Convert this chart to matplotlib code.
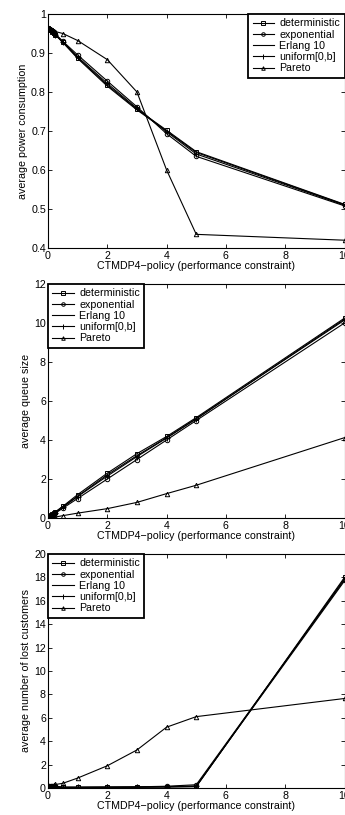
#!/usr/bin/env python3
"""CTMDP4 policy: power / queue / lost customers vs. performance constraint."""

import matplotlib
matplotlib.use("Agg")
import matplotlib.pyplot as plt

plt.rcParams["font.family"] = ["Liberation Sans", "DejaVu Sans"]
plt.rcParams["font.size"] = 7.7

# ── data ─────────────────────────────────────────────────────────────────────
x = [0, 0.05, 0.1, 0.15, 0.2, 0.25, 0.5, 1, 2, 3, 4, 5, 10]

names = ["deterministic", "exponential", "Erlang 10", "uniform[0,b]", "Pareto"]

power_det = [0.965, 0.962, 0.958, 0.955, 0.951, 0.947, 0.928, 0.888, 0.818, 0.756, 0.702, 0.647, 0.512]
power_exp = [0.965, 0.962, 0.959, 0.956, 0.953, 0.949, 0.930, 0.895, 0.828, 0.762, 0.693, 0.635, 0.508]
power_erl = [0.965, 0.962, 0.958, 0.954, 0.950, 0.946, 0.927, 0.886, 0.815, 0.754, 0.700, 0.645, 0.511]
power_uni = [0.965, 0.962, 0.958, 0.955, 0.951, 0.947, 0.928, 0.890, 0.822, 0.758, 0.698, 0.641, 0.510]
power_par = [0.965, 0.963, 0.961, 0.959, 0.957, 0.955, 0.950, 0.932, 0.883, 0.800, 0.600, 0.435, 0.420]

queue_det = [0.0, 0.08, 0.14, 0.2, 0.26, 0.32, 0.6, 1.2, 2.3, 3.3, 4.18, 5.15, 10.25]
queue_exp = [0.0, 0.05, 0.1, 0.15, 0.2, 0.25, 0.5, 1.0, 2.0, 3.0, 4.0, 5.0, 10.0]
queue_erl = [0.0, 0.07, 0.13, 0.19, 0.24, 0.3, 0.57, 1.12, 2.22, 3.2, 4.12, 5.1, 10.15]
queue_uni = [0.0, 0.06, 0.12, 0.17, 0.23, 0.28, 0.55, 1.1, 2.15, 3.15, 4.1, 5.08, 10.2]
queue_par = [0.0, 0.01, 0.02, 0.03, 0.04, 0.05, 0.12, 0.25, 0.48, 0.8, 1.25, 1.68, 4.12]

lost_det = [0.05, 0.05, 0.05, 0.05, 0.05, 0.05, 0.05, 0.05, 0.06, 0.07, 0.09, 0.12, 18.0]
lost_exp = [0.15, 0.15, 0.16, 0.16, 0.17, 0.17, 0.07, 0.07, 0.08, 0.1, 0.15, 0.28, 17.8]
lost_erl = [0.05, 0.05, 0.05, 0.05, 0.05, 0.05, 0.05, 0.05, 0.06, 0.07, 0.09, 0.12, 17.9]
lost_uni = [0.1, 0.1, 0.1, 0.1, 0.1, 0.1, 0.06, 0.06, 0.07, 0.08, 0.11, 0.18, 17.7]
lost_par = [0.05, 0.1, 0.15, 0.2, 0.25, 0.3, 0.4, 0.85, 1.9, 3.25, 5.2, 6.1, 7.65]

markers = ["s", "o", "", "+", "^"]

panels = [
    ([power_det, power_exp, power_erl, power_uni, power_par],
     "average power consumption", (0.4, 1.0), [0.4, 0.5, 0.6, 0.7, 0.8, 0.9, 1],
     ["0.4", "0.5", "0.6", "0.7", "0.8", "0.9", "1"], "upper right"),
    ([queue_det, queue_exp, queue_erl, queue_uni, queue_par],
     "average queue size", (0, 12), [0, 2, 4, 6, 8, 10, 12], None, "upper left"),
    ([lost_det, lost_exp, lost_erl, lost_uni, lost_par],
     "average number of lost customers", (0, 20), list(range(0, 21, 2)), None, "upper left"),
]

# axes rectangles in pixels (left, top, right, bottom) on a 345x815 canvas
W, H = 345, 815
rects = [(48, 14, 344.5, 248), (48, 284, 344.5, 518), (48, 554, 344.5, 788)]

fig = plt.figure(figsize=(W / 100, H / 100), dpi=100, facecolor="white")

for (series, ylabel, ylim, yticks, yticklabels, loc), (l, t, r, b) in zip(panels, rects):
    ax = fig.add_axes([l / W, 1 - b / H, (r - l) / W, (b - t) / H])
    for ys, name, m in zip(series, names, markers):
        ax.plot(x, ys, color="black", linewidth=0.8, marker=m if m else None,
                markersize=3.2 if m != "+" else 4.5, markerfacecolor="none",
                markeredgewidth=0.7, label=name)
    ax.set_xlim(0, 10)
    ax.set_ylim(*ylim)
    ax.set_xticks([0, 2, 4, 6, 8, 10])
    ax.set_yticks(yticks)
    if yticklabels:
        ax.set_yticklabels(yticklabels)
    ax.tick_params(direction="in", top=True, right=True, length=3, width=0.6,
                   labelsize=7.7, pad=1.5)
    ax.tick_params(axis="x", pad=2.5)
    for spine in ax.spines.values():
        spine.set_linewidth(0.8)
    ax.set_xlabel("CTMDP4\u2212policy (performance constraint)", fontsize=7.7, labelpad=0)
    ax.set_ylabel(ylabel, fontsize=7.7, labelpad=2)
    leg = ax.legend(loc=loc, fontsize=7.7, fancybox=False, framealpha=1,
                    edgecolor="black", borderaxespad=0, handlelength=2.0,
                    handletextpad=0.5, labelspacing=0.12, borderpad=0.4,
                    markerscale=0.8)
    leg.get_frame().set_linewidth(1.3)

fig.savefig("out.png", dpi=100, facecolor="white")
